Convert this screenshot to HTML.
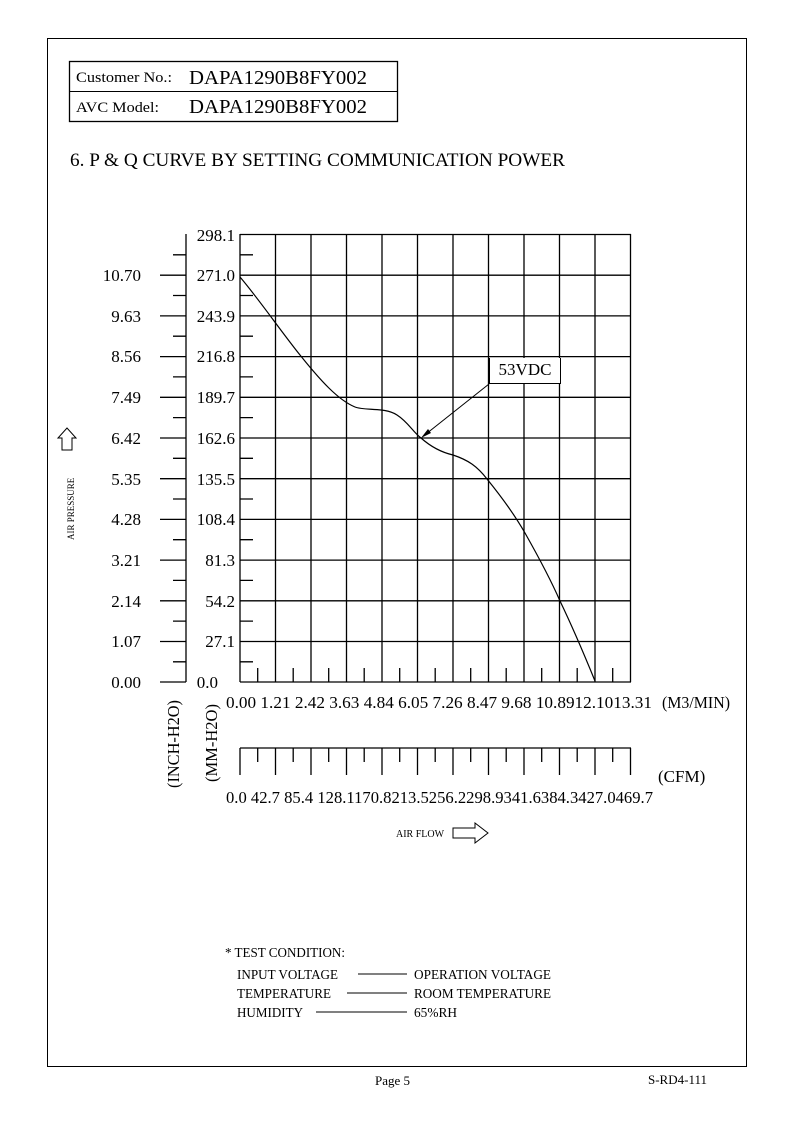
<!DOCTYPE html>
<html><head><meta charset="utf-8"><style>
html,body{margin:0;padding:0;background:#fff;}
svg{display:block;}
text{font-family:"Liberation Serif",serif;fill:#000;}
</style></head><body>
<svg width="794" height="1123" viewBox="0 0 794 1123" xmlns="http://www.w3.org/2000/svg">
<rect x="47.5" y="38.5" width="699" height="1028" fill="none" stroke="#000" stroke-width="1"/>
<rect x="69.5" y="61.5" width="328" height="60" fill="none" stroke="#000" stroke-width="1.3"/>
<line x1="69.5" y1="91.5" x2="397.5" y2="91.5" stroke="#000"/>
<text x="76" y="82" font-size="15" textLength="96" lengthAdjust="spacingAndGlyphs">Customer No.:</text>
<text x="189" y="84" font-size="20" textLength="178" lengthAdjust="spacingAndGlyphs">DAPA1290B8FY002</text>
<text x="76" y="112" font-size="15" textLength="83" lengthAdjust="spacingAndGlyphs">AVC Model:</text>
<text x="189" y="113" font-size="20" textLength="178" lengthAdjust="spacingAndGlyphs">DAPA1290B8FY002</text>
<text x="70" y="166" font-size="19" textLength="495" lengthAdjust="spacingAndGlyphs">6. P &amp; Q CURVE BY SETTING COMMUNICATION POWER</text>

<g stroke="#000" stroke-width="1.3" fill="none">
<path d="M240,234V682 M275.5,234V682 M311,234V682 M346.5,234V682 M382,234V682 M417.5,234V682 M453,234V682 M488.5,234V682 M524,234V682 M559.5,234V682 M595,234V682 M630.5,234V682"/>
<path d="M240,234.5H631 M240,275.2H631 M240,315.9H631 M240,356.6H631 M240,397.3H631 M240,438H631 M240,478.7H631 M240,519.4H631 M240,560.1H631 M240,600.8H631 M240,641.5H631 M240,682H631"/>
<path d="M240,254.8H253 M240,295.5H253 M240,336.2H253 M240,376.9H253 M240,417.6H253 M240,458.3H253 M240,499H253 M240,539.7H253 M240,580.4H253 M240,621.1H253 M240,661.8H253"/>
<path d="M257.7,682V668 M293.2,682V668 M328.7,682V668 M364.2,682V668 M399.7,682V668 M435.2,682V668 M470.7,682V668 M506.2,682V668 M541.7,682V668 M577.2,682V668 M612.7,682V668"/>
<path d="M186,234V682"/>
<path d="M160,275.2H186 M160,315.9H186 M160,356.6H186 M160,397.3H186 M160,438H186 M160,478.7H186 M160,519.4H186 M160,560.1H186 M160,600.8H186 M160,641.5H186 M160,682H186"/>
<path d="M173,254.8H186 M173,295.5H186 M173,336.2H186 M173,376.9H186 M173,417.6H186 M173,458.3H186 M173,499H186 M173,539.7H186 M173,580.4H186 M173,621.1H186 M173,661.8H186"/>
<path d="M240,748H631"/>
<path d="M240,748V775 M275.5,748V775 M311,748V775 M346.5,748V775 M382,748V775 M417.5,748V775 M453,748V775 M488.5,748V775 M524,748V775 M559.5,748V775 M595,748V775 M630.5,748V775"/>
<path d="M257.7,748V762 M293.2,748V762 M328.7,748V762 M364.2,748V762 M399.7,748V762 M435.2,748V762 M470.7,748V762 M506.2,748V762 M541.7,748V762 M577.2,748V762 M612.7,748V762"/>
</g>
<path d="M240,277 C258,298 280,330 300,355 C320,380 338,400 355,407 C365,411 385,407 397,415 C408,422 413,432 421,438 C430,446 440,452 453,455 C468,460 477,466 487,479 C500,495 513,512 525,533 C538,556 550,578 560,601 C573,628 584,654 595,681" fill="none" stroke="#000" stroke-width="1.2"/>
<rect x="489" y="358" width="71" height="25" fill="#fff"/>
<path d="M489.5,358V383.5H560.5V358" fill="none" stroke="#000" stroke-width="1"/>
<line x1="489" y1="384" x2="426" y2="434" stroke="#000" stroke-width="1"/>
<polygon points="421,438 428,429 431,433" fill="#000"/>
<text x="525" y="375" font-size="17" text-anchor="middle">53VDC</text>

<g font-size="17" text-anchor="end">
<text x="141" y="281">10.70</text><text x="141" y="322">9.63</text><text x="141" y="362">8.56</text>
<text x="141" y="403">7.49</text><text x="141" y="444">6.42</text><text x="141" y="485">5.35</text>
<text x="141" y="525">4.28</text><text x="141" y="566">3.21</text><text x="141" y="607">2.14</text>
<text x="141" y="647">1.07</text><text x="141" y="688">0.00</text>
</g>
<g font-size="17" text-anchor="end">
<text x="235" y="241">298.1</text><text x="235" y="281">271.0</text><text x="235" y="322">243.9</text>
<text x="235" y="362">216.8</text><text x="235" y="403">189.7</text><text x="235" y="444">162.6</text>
<text x="235" y="485">135.5</text><text x="235" y="525">108.4</text><text x="235" y="566">81.3</text>
<text x="235" y="607">54.2</text><text x="235" y="647">27.1</text><text x="218" y="688">0.0</text>
</g>
<g font-size="17">
<text x="226" y="708" textLength="426" lengthAdjust="spacingAndGlyphs">0.00  1.21  2.42  3.63  4.84  6.05  7.26  8.47  9.68  10.8912.1013.31</text>
<text x="662" y="708" textLength="68" lengthAdjust="spacingAndGlyphs">(M3/MIN)</text>
<text x="226" y="803" textLength="427" lengthAdjust="spacingAndGlyphs">0.0   42.7  85.4  128.1170.8213.5256.2298.9341.6384.3427.0469.7</text>
<text x="658" y="782">(CFM)</text>
</g>
<text transform="translate(179,788) rotate(-90)" font-size="17" textLength="88" lengthAdjust="spacingAndGlyphs">(INCH-H2O)</text>
<text transform="translate(217,782) rotate(-90)" font-size="17" textLength="78" lengthAdjust="spacingAndGlyphs">(MM-H2O)</text>
<text transform="translate(74,540) rotate(-90)" font-size="9">AIR PRESSURE</text>
<path d="M62,450V438H58L67,428L76,438H72V450Z" fill="none" stroke="#000" stroke-width="1"/>
<text x="396" y="837" font-size="10">AIR FLOW</text>
<path d="M453,828H475V823L488,833L475,843V838H453Z" fill="none" stroke="#000" stroke-width="1"/>

<g font-size="14">
<text x="225" y="957" textLength="120" lengthAdjust="spacingAndGlyphs">* TEST CONDITION:</text>
<text x="237" y="979" textLength="101" lengthAdjust="spacingAndGlyphs">INPUT VOLTAGE</text><text x="414" y="979" textLength="137" lengthAdjust="spacingAndGlyphs">OPERATION VOLTAGE</text>
<text x="237" y="998" textLength="94" lengthAdjust="spacingAndGlyphs">TEMPERATURE</text><text x="414" y="998" textLength="137" lengthAdjust="spacingAndGlyphs">ROOM TEMPERATURE</text>
<text x="237" y="1017" textLength="66" lengthAdjust="spacingAndGlyphs">HUMIDITY</text><text x="414" y="1017" textLength="43" lengthAdjust="spacingAndGlyphs">65%RH</text>
</g>
<g stroke="#000" stroke-width="1">
<line x1="358" y1="974" x2="407" y2="974"/>
<line x1="347" y1="993" x2="407" y2="993"/>
<line x1="316" y1="1012" x2="407" y2="1012"/>
</g>
<text x="375" y="1085" font-size="13">Page 5</text>
<text x="648" y="1084" font-size="13">S-RD4-111</text>
</svg>
</body></html>
